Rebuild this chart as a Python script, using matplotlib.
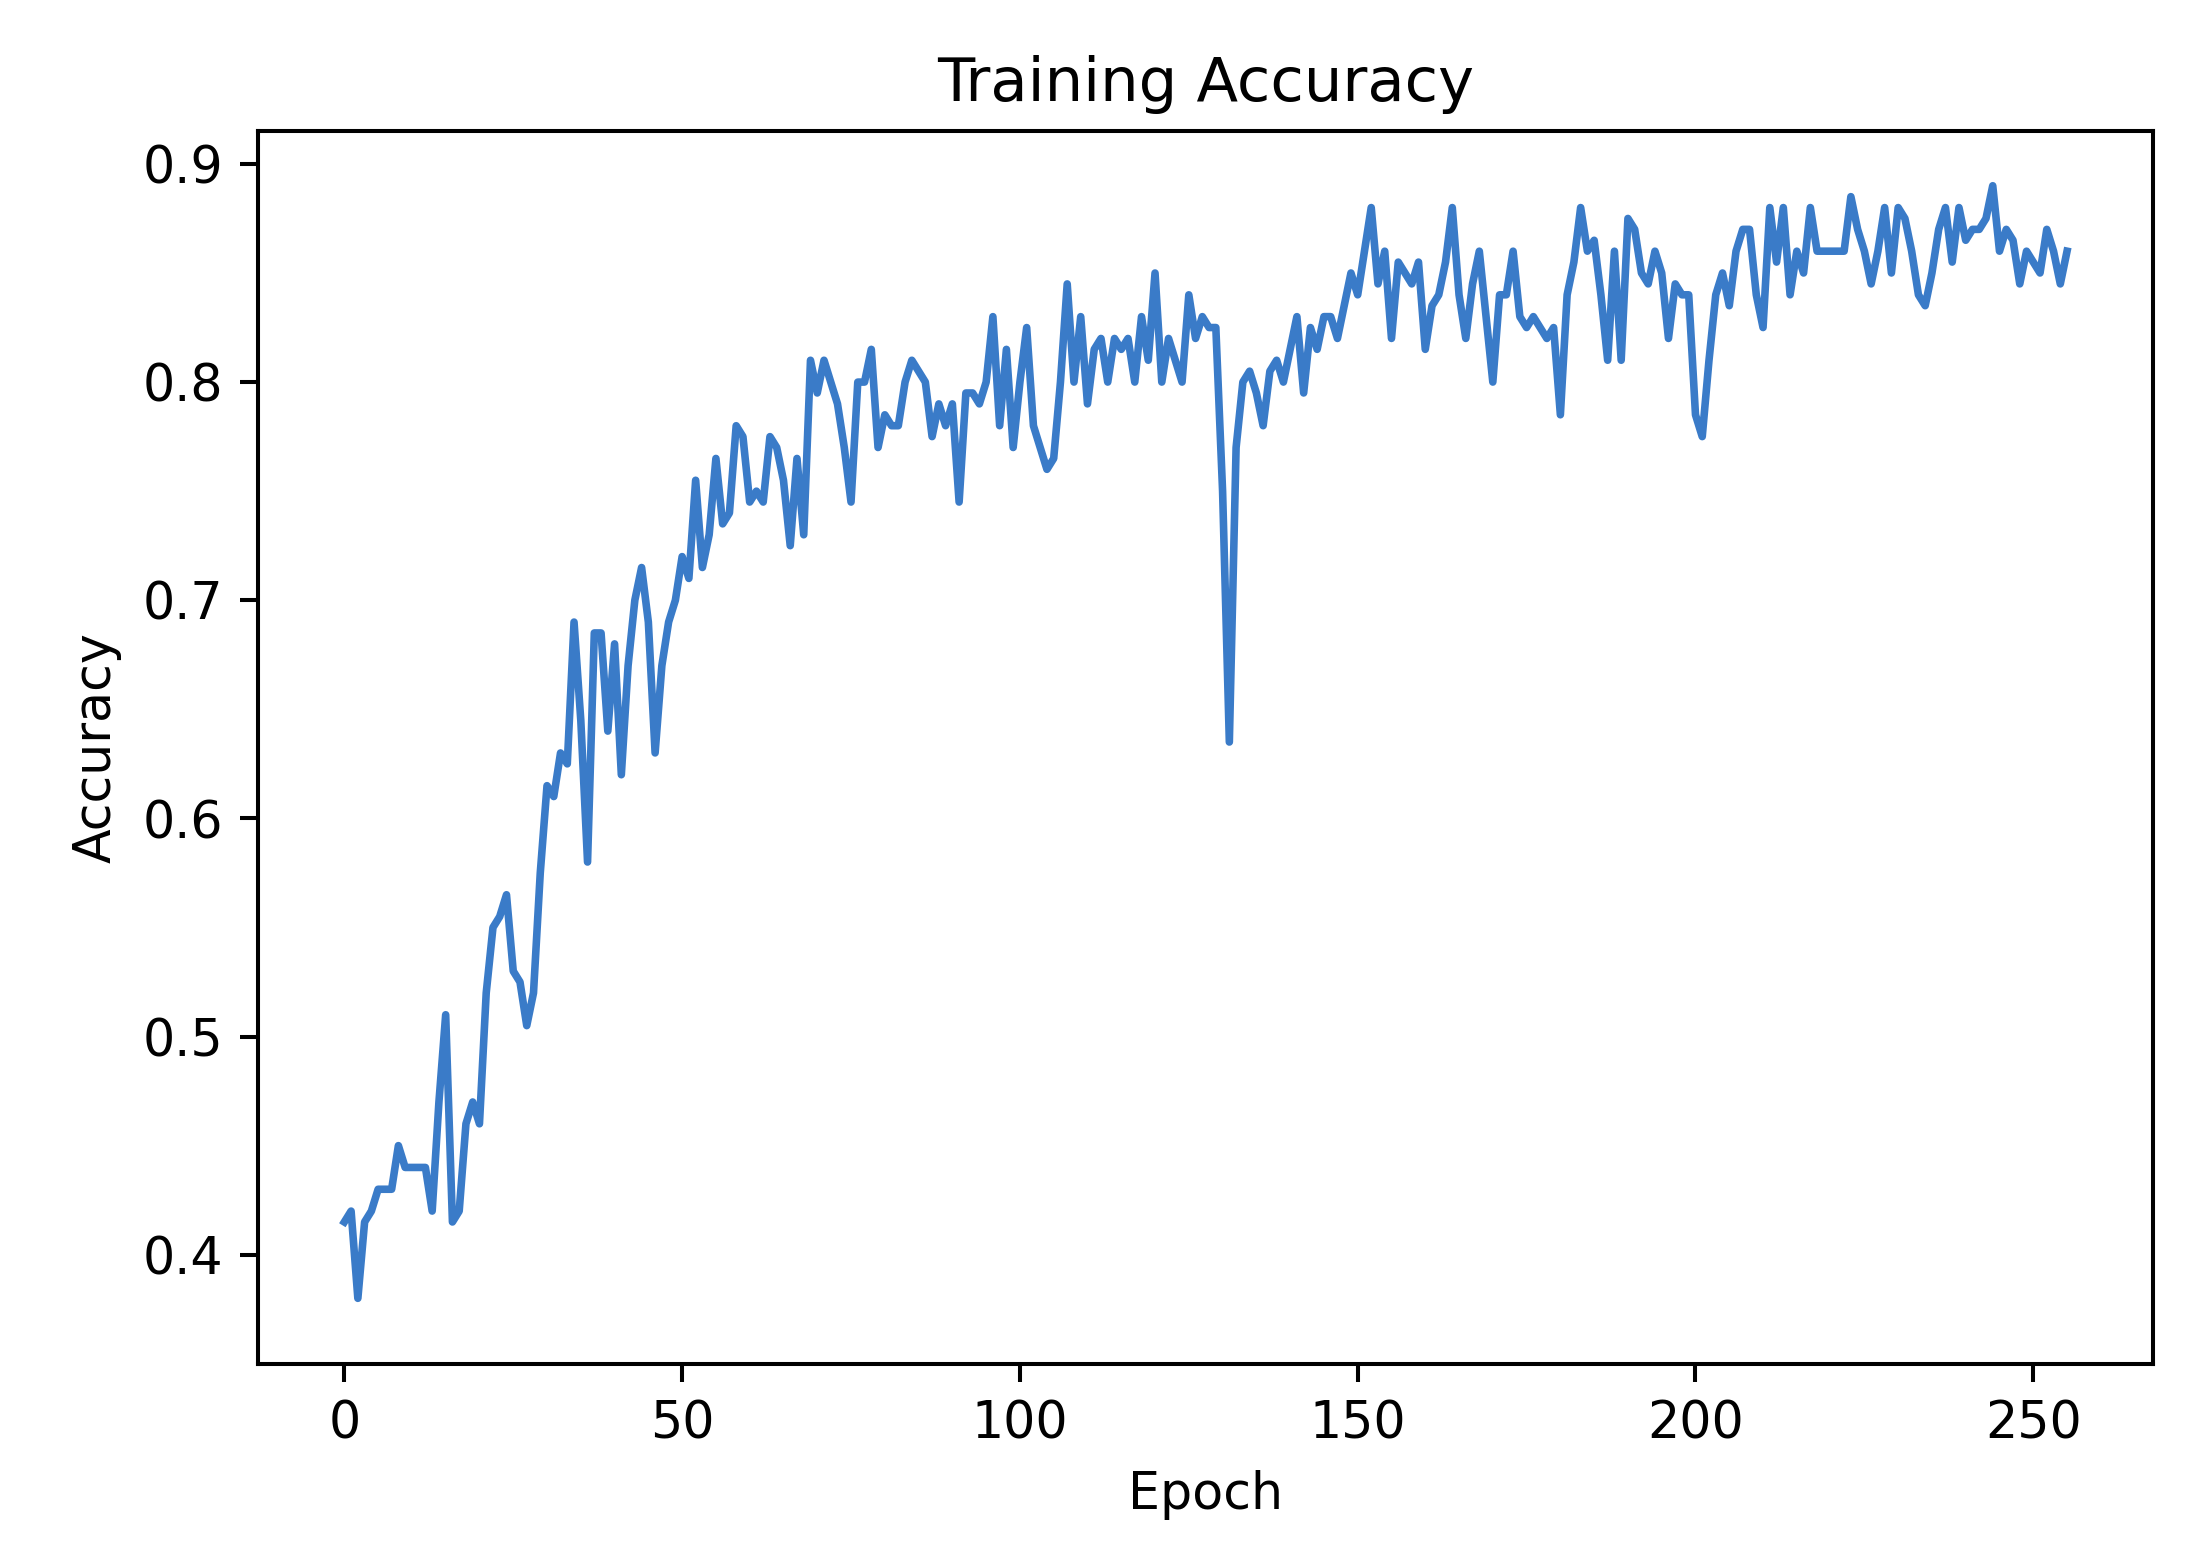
import matplotlib
matplotlib.use("Agg")
import matplotlib.pyplot as plt

# training accuracy per epoch
accuracy = [
    0.415, 0.42, 0.38, 0.415, 0.42, 0.43, 0.43, 0.43, 0.45, 0.44,
    0.44, 0.44, 0.44, 0.42, 0.47, 0.51, 0.415, 0.42, 0.46, 0.47,
    0.46, 0.52, 0.55, 0.555, 0.565, 0.53, 0.525, 0.505, 0.52, 0.575,
    0.615, 0.61, 0.63, 0.625, 0.69, 0.645, 0.58, 0.685, 0.685, 0.64,
    0.68, 0.62, 0.67, 0.70, 0.715, 0.69, 0.63, 0.67, 0.69, 0.70,
    0.72, 0.71, 0.755, 0.715, 0.73, 0.765, 0.735, 0.74, 0.78, 0.775,
    0.745, 0.75, 0.745, 0.775, 0.77, 0.755, 0.725, 0.765, 0.73, 0.81,
    0.795, 0.81, 0.80, 0.79, 0.77, 0.745, 0.80, 0.80, 0.815, 0.77,
    0.785, 0.78, 0.78, 0.80, 0.81, 0.805, 0.80, 0.775, 0.79, 0.78,
    0.79, 0.745, 0.795, 0.795, 0.79, 0.80, 0.83, 0.78, 0.815, 0.77,
    0.80, 0.825, 0.78, 0.77, 0.76, 0.765, 0.80, 0.845, 0.80, 0.83,
    0.79, 0.815, 0.82, 0.80, 0.82, 0.815, 0.82, 0.80, 0.83, 0.81,
    0.85, 0.80, 0.82, 0.81, 0.80, 0.84, 0.82, 0.83, 0.825, 0.825,
    0.75, 0.635, 0.77, 0.80, 0.805, 0.795, 0.78, 0.805, 0.81, 0.80,
    0.815, 0.83, 0.795, 0.825, 0.815, 0.83, 0.83, 0.82, 0.835, 0.85,
    0.84, 0.86, 0.88, 0.845, 0.86, 0.82, 0.855, 0.85, 0.845, 0.855,
    0.815, 0.835, 0.84, 0.855, 0.88, 0.84, 0.82, 0.845, 0.86, 0.83,
    0.80, 0.84, 0.84, 0.86, 0.83, 0.825, 0.83, 0.825, 0.82, 0.825,
    0.785, 0.84, 0.855, 0.88, 0.86, 0.865, 0.84, 0.81, 0.86, 0.81,
    0.875, 0.87, 0.85, 0.845, 0.86, 0.85, 0.82, 0.845, 0.84, 0.84,
    0.785, 0.775, 0.81, 0.84, 0.85, 0.835, 0.86, 0.87, 0.87, 0.84,
    0.825, 0.88, 0.855, 0.88, 0.84, 0.86, 0.85, 0.88, 0.86, 0.86,
    0.86, 0.86, 0.86, 0.885, 0.87, 0.86, 0.845, 0.86, 0.88, 0.85,
    0.88, 0.875, 0.86, 0.84, 0.835, 0.85, 0.87, 0.88, 0.855, 0.88,
    0.865, 0.87, 0.87, 0.875, 0.89, 0.86, 0.87, 0.865, 0.845, 0.86,
    0.855, 0.85, 0.87, 0.86, 0.845, 0.86,
]
epochs = list(range(len(accuracy)))

fig = plt.figure(figsize=(6.0, 4.289), dpi=364.7)
ax = fig.add_axes([0.118, 0.128, 0.866, 0.788])
ax.plot(epochs, accuracy, color="#3a7bc8", linewidth=1.5)
ax.set_title("Training Accuracy")
ax.set_xlabel("Epoch")
ax.set_ylabel("Accuracy")
ax.set_ylim(0.35, 0.915)
ax.set_xticks([0, 50, 100, 150, 200, 250])
ax.set_yticks([0.4, 0.5, 0.6, 0.7, 0.8, 0.9])

fig.savefig("out.png")
